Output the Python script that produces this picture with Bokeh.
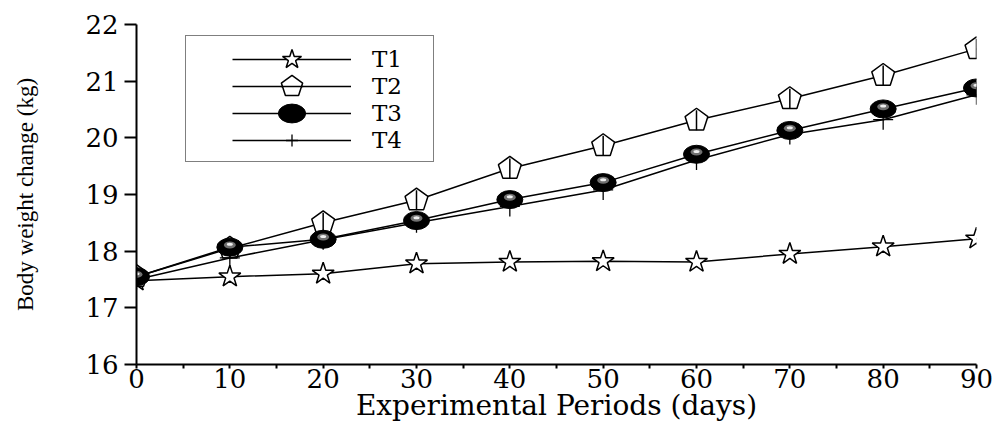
from bokeh.plotting import figure
from bokeh.models import Range1d, Legend, LegendItem, FixedTicker
from bokeh.embed import file_html
from bokeh.resources import INLINE
import math

days = [0, 10, 20, 30, 40, 50, 60, 70, 80, 90]
t1 = [17.48, 17.55, 17.60, 17.78, 17.81, 17.82, 17.81, 17.95, 18.08, 18.22]
t2 = [17.55, 18.05, 18.50, 18.90, 19.46, 19.86, 20.31, 20.69, 21.10, 21.57]
t3 = [17.55, 18.07, 18.21, 18.54, 18.91, 19.21, 19.71, 20.13, 20.51, 20.88]
t4 = [17.50, 17.88, 18.20, 18.50, 18.79, 19.08, 19.61, 20.06, 20.32, 20.76]
y_ticks = [16, 17, 18, 19, 20, 21, 22]
x_minor = [5, 15, 25, 35, 45, 55, 65, 75, 85]
names = ["T1", "T2", "T3", "T4"]

p = figure(width=997, height=427, output_backend="svg", toolbar_location=None,
           x_range=Range1d(0, 90), y_range=Range1d(16, 22),
           min_border_left=136, min_border_right=21, min_border_top=24,
           min_border_bottom=63)
p.grid.visible = False
p.outline_line_color = None

# T1 stars
r1l = p.line(days, t1, line_color="black", line_width=1.5)
r1m = p.scatter(days, t1, marker="star", size=23, fill_color="white",
                line_color="black", line_width=1.5)
# T2 pentagons
r2l = p.line(days, t2, line_color="black", line_width=1.5)
r2m = p.ngon(x=days, y=t2, radius=12, radius_units="screen", n=5,
             fill_color="white", line_color="black", line_width=1.5)
r2c = p.scatter(days, t2, marker="dash", size=20, angle=math.pi / 2,
                line_color="black", line_width=1.5)
# T4 plus
r4l = p.line(days, t4, line_color="black", line_width=1.5)
r4m = p.scatter(days, t4, marker="cross", size=20, line_color="black", line_width=1.3)
# T3 spheres
r3l = p.line(days, t3, line_color="black", line_width=1.5)
r3m = p.ellipse(x=days, y=t3, width=26, height=18, width_units="screen",
                height_units="screen", fill_color="black", line_color="black")
hi1 = [v + 0.04 for v in t3]
hi2 = [v + 0.05 for v in t3]
p.ellipse(x=days, y=hi1, width=12, height=7, width_units="screen",
          height_units="screen", fill_color="#707070", line_color=None)
p.ellipse(x=days, y=hi2, width=6, height=3, width_units="screen",
          height_units="screen", fill_color="#eeeeee", line_color=None)

# axes
for ax in (p.xaxis[0], p.yaxis[0]):
    ax.axis_line_width = 2
    ax.major_tick_line_width = 2
    ax.minor_tick_line_width = 2
    ax.major_tick_in = 0
    ax.minor_tick_in = 0
    ax.major_label_text_font = "DejaVu Serif"
    ax.major_label_text_color = "black"
    ax.major_label_text_font_size = "26px"
    ax.axis_label_text_font_style = "normal"
    ax.axis_label_text_color = "black"

p.xaxis.ticker = FixedTicker(ticks=days, minor_ticks=x_minor)
p.xaxis.major_tick_out = 4
p.xaxis.minor_tick_out = 4
p.xaxis.major_label_standoff = 0
p.xaxis.axis_label = "Experimental Periods (days)"
p.xaxis.axis_label_text_font = "DejaVu Serif"
p.xaxis.axis_label_text_font_size = "28px"
p.xaxis.axis_label_standoff = -2

p.yaxis.ticker = FixedTicker(ticks=y_ticks)
p.yaxis.major_tick_out = 12
p.yaxis.minor_tick_out = 0
p.yaxis.major_label_standoff = 6
p.yaxis.axis_label = "Body weight change (kg)"
p.yaxis.axis_label_text_font = "Liberation Serif"
p.yaxis.axis_label_text_font_size = "23px"
p.yaxis.axis_label_standoff = 44

# legend frame (empty, invisible glyph)
dummy = p.scatter(x=[], y=[], marker="square", size=1, alpha=0)
frame = Legend(items=[LegendItem(label="", renderers=[dummy])], location=(49, 202))
frame.padding = 0
frame.glyph_width = 247
frame.glyph_height = 125
frame.label_width = 0
frame.label_height = 0
frame.label_standoff = 0
frame.label_text_font_size = "1px"
frame.border_line_color = "black"
frame.border_line_width = 1.5
frame.background_fill_color = "white"
frame.background_fill_alpha = 1
p.add_layout(frame)

# one legend row per series, stacked inside the frame
rows = [
    (names[0], [r1l, r1m], 50, 280),
    (names[1], [r2l, r2m, r2c], 56, 250),
    (names[2], [r3l, r3m], 34, 234),
    (names[3], [r4l, r4m], 30, 209),
]
for label, rends, gh, ybot in rows:
    lg = Legend(items=[LegendItem(label=label, renderers=rends)], location=(96, ybot))
    lg.glyph_width = 119
    lg.glyph_height = gh
    lg.padding = 0
    lg.spacing = 0
    lg.label_standoff = 21
    lg.label_text_font = "DejaVu Serif"
    lg.label_text_font_size = "23px"
    lg.label_text_color = "black"
    lg.border_line_alpha = 0
    lg.background_fill_alpha = 0
    p.add_layout(lg)

open("out.html", "w").write(file_html(p, INLINE))
